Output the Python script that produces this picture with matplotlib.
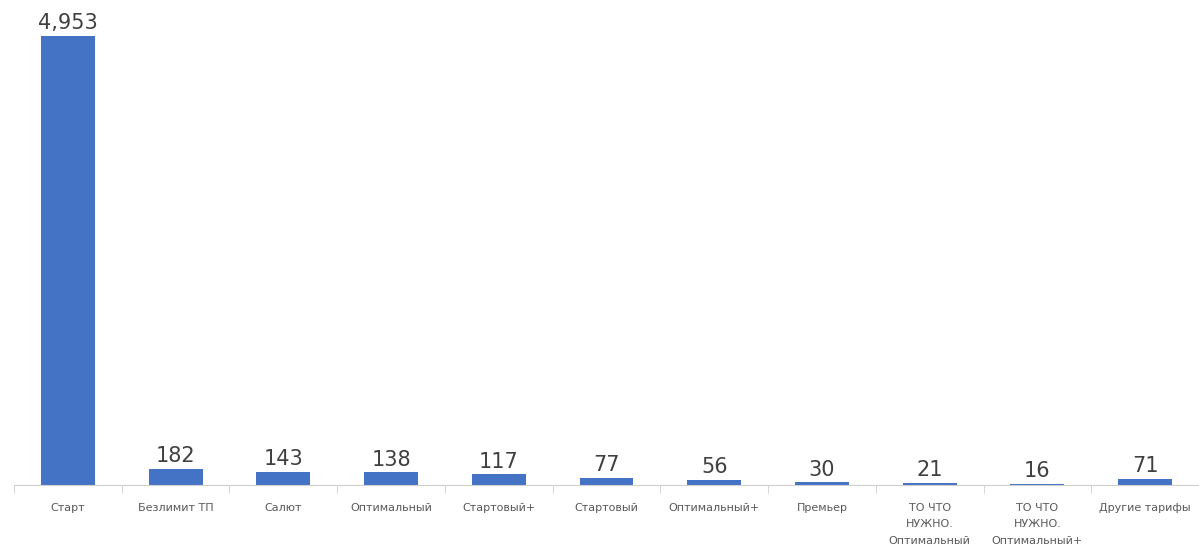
import numpy as np
import matplotlib.pyplot as plt

tariffs = ['Старт', 'Безлимит ТП', 'Салют', 'Оптимальный', 'Стартовый+', 'Стартовый',
           'Оптимальный+', 'Премьер', 'ТО ЧТО\nНУЖНО.\nОптимальный',
           'ТО ЧТО\nНУЖНО.\nОптимальный+', 'Другие тарифы']
counts = [4953, 182, 143, 138, 117, 77, 56, 30, 21, 16, 71]

plt.rcParams['font.family'] = ['DejaVu Sans']

fig = plt.figure(figsize=(11.99, 5.56), dpi=100)
ax = fig.add_axes([14/1199, 71/556, 1185/1199, 485/556])

x = np.arange(len(tariffs))
bars = ax.bar(x, counts, width=0.5, color='#4472C4')
ax.bar_label(bars, labels=[f'{v:,}' for v in counts], padding=2, fontsize=15, color='#404040')

ax.set_xlim(-0.5, len(tariffs) - 0.5)
ax.set_ylim(0, 5350)
ax.set_yticks([])
ax.set_xticks(x)
ax.set_xticklabels(tariffs, fontsize=8, color='#595959', linespacing=1.8, va='top')
ax.set_xticks(np.arange(len(tariffs) + 1) - 0.5, minor=True)
ax.tick_params(axis='x', which='major', length=0, pad=13)
ax.tick_params(axis='x', which='minor', length=6, color='#cfcfcf')

for s in ['top', 'right', 'left']:
    ax.spines[s].set_visible(False)
ax.spines['bottom'].set_color('#cfcfcf')

fig.savefig('out.png', dpi=100)
